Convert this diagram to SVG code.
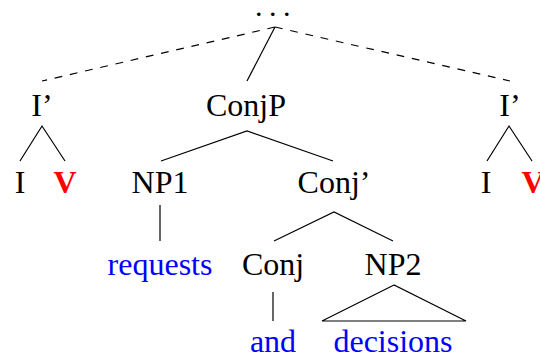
<svg xmlns="http://www.w3.org/2000/svg" width="540" height="356" viewBox="0 0 540 356">
<style>
text{font-family:"Liberation Serif","Times New Roman","Liberation Sans",serif;font-size:32px;text-anchor:middle;fill:#000}
.b{fill:#0000ff}
.v{fill:#ff0000;font-weight:bold}
.dots{font-size:22px;font-weight:bold;letter-spacing:8.5px}
.e{stroke:#000;stroke-width:1.2;fill:none}
.d{stroke-dasharray:7.8 7.8}
</style>
<rect width="540" height="356" fill="#fff"/>
<g id="connectors">
<line class="e d" x1="275" y1="27" x2="42" y2="81"/>
<line class="e d" x1="275" y1="27" x2="510" y2="81"/>
<line class="e" x1="275" y1="27" x2="247" y2="81"/>
<polyline class="e" points="20,161 42,126 65,161"/>
<polyline class="e" points="161,161 247,131 333,161"/>
<polyline class="e" points="487,161 509,126 532,161"/>
<line class="e" x1="160" y1="205" x2="160" y2="241"/>
<polyline class="e" points="274,241 334,212 393,241"/>
<line class="e" x1="273" y1="292" x2="273" y2="321"/>
<polygon class="e" points="394,285 322,321 466,321"/>
</g>
<g id="root"><text class="dots" x="277" y="16">...</text></g>
<g id="ibar-left"><text x="42" y="116">I’</text></g>
<g id="conjp"><text x="246" y="116">ConjP</text></g>
<g id="ibar-right"><text x="510" y="116">I’</text></g>
<g id="i-left"><text x="20" y="193">I</text></g>
<g id="v-left"><text class="v" x="65" y="193">V</text></g>
<g id="np1"><text x="160" y="193">NP1</text></g>
<g id="conjbar"><text x="334" y="193">Conj’</text></g>
<g id="i-right"><text x="486" y="193">I</text></g>
<g id="v-right"><text class="v" x="533" y="193">V</text></g>
<g id="requests"><text class="b" x="160" y="275">requests</text></g>
<g id="conj"><text x="273" y="275">Conj</text></g>
<g id="np2"><text x="393" y="275">NP2</text></g>
<g id="and"><text class="b" x="273" y="352">and</text></g>
<g id="decisions"><text class="b" x="393" y="352">decisions</text></g>
</svg>
